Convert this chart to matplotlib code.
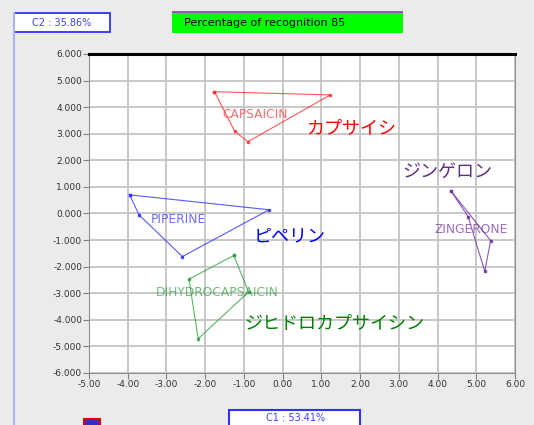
import matplotlib.pyplot as plt
from matplotlib.patches import Rectangle

plt.rcParams['font.family'] = ['Noto Sans CJK JP', 'DejaVu Sans']

# PCA scores (C1, C2) for each compound cluster
capsaicin_x = [-1.76, 1.23, -0.90, -1.24, -1.76]
capsaicin_y = [4.58, 4.46, 2.70, 3.10, 4.58]
piperine_x = [-3.95, -0.35, -2.59, -3.71, -3.95]
piperine_y = [0.70, 0.14, -1.62, -0.05, 0.70]
dihydro_x = [-1.26, -0.88, -2.18, -2.42, -1.26]
dihydro_y = [-1.58, -2.95, -4.71, -2.47, -1.58]
zingerone_x = [4.34, 5.37, 5.22, 4.79, 4.34]
zingerone_y = [0.86, -1.02, -2.18, -0.12, 0.86]

compounds = [
    ("CAPSAICIN", capsaicin_x, capsaicin_y, "#ff3030", (-0.70, 3.71), "カプサイシ", (0.6, 3.20)),
    ("PIPERINE", piperine_x, piperine_y, "#3030ff", (-2.69, -0.24), "ピペリン", (-0.75, -0.88)),
    ("DIHYDROCAPSAICIN", dihydro_x, dihydro_y, "#30a040", (-1.68, -2.97), "ジヒドロカプサイシン", (-1.00, -4.16)),
    ("ZINGERONE", zingerone_x, zingerone_y, "#7030a0", (4.88, -0.62), "ジンゲロン", (3.10, 1.52)),
]
jp_colors = ["#ff0000", "#0000ff", "#008000", "#603080"]

x_ticks = [-5, -4, -3, -2, -1, 0, 1, 2, 3, 4, 5, 6]
y_ticks = [-6, -5, -4, -3, -2, -1, 0, 1, 2, 3, 4, 5, 6]

fig = plt.figure(figsize=(5.34, 4.25), dpi=100)
fig.patch.set_facecolor("#ebebeb")

ax = fig.add_axes([0.1667, 0.1224, 0.7977, 0.7506])
ax.set_facecolor("white")
ax.set_xlim(-5, 6)
ax.set_ylim(-6, 6)
ax.set_xticks(x_ticks)
ax.set_yticks(y_ticks)
ax.set_xticklabels([f"{v:.2f}" for v in x_ticks], fontsize=6.5, color="#333333", family="DejaVu Sans")
ax.set_yticklabels([f"{v:.3f}" for v in y_ticks], fontsize=6.5, color="#333333", family="DejaVu Sans")
ax.tick_params(length=4, color="#808080", width=0.8, pad=1)
ax.grid(True, color="#c4c4c4", linewidth=1.3)
ax.set_axisbelow(True)
for side in ["left", "bottom", "right"]:
    ax.spines[side].set_color("#909090")
ax.spines["top"].set_color("black")
ax.spines["top"].set_linewidth(2.2)

for (name, xs, ys, col, lpos, jp, jpos), jcol in zip(compounds, jp_colors):
    ax.plot(xs, ys, color=col, linewidth=0.8, alpha=0.8, marker="s", markersize=2)
    ax.text(lpos[0], lpos[1], name, color=col, fontsize=8.8, ha="center", va="center",
            family="DejaVu Sans", alpha=0.7)
    ax.text(jpos[0], jpos[1], jp, color=jcol, fontsize=13, ha="left", va="center")

# header and axis-variance boxes
fig.add_artist(Rectangle((0.026, 0.925), 0.180, 0.044, transform=fig.transFigure,
                         facecolor="white", edgecolor="#3030ff", linewidth=1.3))
fig.text(0.116, 0.947, "C2 : 35.86%", fontsize=7, color="#4040ff", ha="center", va="center",
         family="DejaVu Sans")
fig.add_artist(Rectangle((0.322, 0.922), 0.433, 0.05, transform=fig.transFigure,
                         facecolor="#00ff00", edgecolor="none"))
fig.add_artist(Rectangle((0.322, 0.970), 0.433, 0.004, transform=fig.transFigure,
                         facecolor="#9060b0", edgecolor="none"))
fig.text(0.345, 0.946, "Percentage of recognition 85", fontsize=8, color="black",
         ha="left", va="center", family="DejaVu Sans")
fig.add_artist(Rectangle((0.429, -0.01), 0.245, 0.045, transform=fig.transFigure,
                         facecolor="white", edgecolor="#3030ff", linewidth=1.5))
fig.text(0.553, 0.016, "C1 : 53.41%", fontsize=7, color="#4040ff", ha="center", va="center",
         family="DejaVu Sans")
fig.add_artist(Rectangle((0.158, -0.01), 0.030, 0.024, transform=fig.transFigure,
                         facecolor="#3030c0", edgecolor="#e00000", linewidth=1.5))
fig.add_artist(plt.Line2D([0.026, 0.026], [0.0, 0.97], transform=fig.transFigure,
                          color="#b0b0f0", linewidth=1.5))

fig.savefig("out.png", dpi=100, facecolor=fig.get_facecolor())
